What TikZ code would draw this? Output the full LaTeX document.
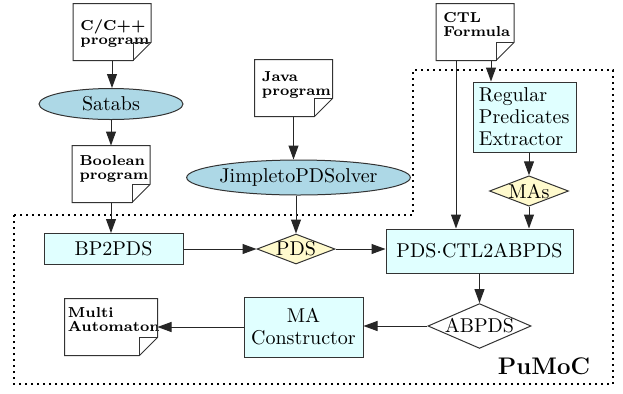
\documentclass[tikz,border=0pt]{standalone}
\usetikzlibrary{shapes.geometric,arrows.meta}

\definecolor{toolblue}{RGB}{173,216,230}
\definecolor{proccyan}{RGB}{224,255,255}
\definecolor{datayellow}{RGB}{255,250,205}

\tikzset{
  every node/.style={font=\fontsize{10}{11}\selectfont},
  tool/.style={ellipse, draw=black!80, fill=toolblue, inner sep=0pt},
  proc/.style={rectangle, draw=black!80, fill=proccyan, inner sep=0pt},
  data/.style={diamond, draw=black!80, fill=datayellow, inner sep=0pt, aspect=2.6},
  doc/.style 2 args={font=\fontsize{7.2}{7}\selectfont\bfseries, align=left,
    inner xsep=3.5pt, inner ysep=0pt, text width=31.5pt,
    text height=#1, text depth=#2},
  flow/.style={-{Triangle[length=7pt,width=5pt]}, draw=black!85},
}

\begin{document}
\begin{tikzpicture}[x=0.5pt, y=-0.5pt, line width=0.5pt]
  \useasboundingbox (0,0) rectangle (623,393);

  % tool boundary
  \draw[line width=1pt, dotted] (14,215) -- (413,215) -- (413,70) -- (613,70)
    -- (613,384) -- (14,384) -- cycle;

  % inputs and front ends
  \node[doc={13pt}{15pt}] (cpp) at (112,32) {C/C++\\program};
  \node[tool, minimum width=72pt, minimum height=15.5pt] (satabs) at (111,104) {Satabs};
  \node[doc={9.5pt}{18.5pt}] (bool) at (111,174) {Boolean\\program};
  \node[doc={10.5pt}{17.5pt}] (java) at (293.5,88) {Java\\program};
  \node[tool, minimum width=86.5pt, minimum height=17.5pt] (jimple) at (298.5,177.5) {JimpletoPDSolver};
  \node[doc={9pt}{19pt}] (ctl) at (475,32) {CTL\\Formula};

  % inside the checker
  \node[proc, minimum width=51.5pt, minimum height=35pt, text width=45.5pt, align=left] (rpe) at (524.5,117) {Regular\\Predicates\\Extractor};
  \node[data, minimum width=39pt, minimum height=14pt] (mas) at (529,191) {MAs};
  \node[proc, minimum width=69.5pt, minimum height=15.5pt] (bp2pds) at (113.5,249) {BP2PDS};
  \node[data, minimum width=39pt, minimum height=15pt] (pds) at (296,249) {PDS};
  \node[proc, minimum width=93.5pt, minimum height=22pt] (pdsctl) at (479.5,251) {PDS$\cdot$CTL2ABPDS};
  \node[data, fill=white, aspect=2.3, minimum width=48.5pt, minimum height=21pt] (abpds) at (479.5,326) {ABPDS};
  \node[proc, minimum width=59.5pt, minimum height=30pt, align=center] (ma) at (303.5,327) {MA\\Constructor};
  \node[doc={9pt}{19pt}, text width=43pt, inner xsep=1.5pt] (multi) at (111,327) {Multi\\Automaton};
  \node[font=\large\bfseries] (pumoc) at (544,366) {PuMoC};

  % folded corners of the files
  \foreach \d in {cpp,bool,java,ctl,multi}{
    \draw[black!80] (\d.north west) -- (\d.north east) -- ([yshift=9pt]\d.south east)
      -- ([xshift=-9pt]\d.south east) -- (\d.south west) -- cycle;
    \draw[black!80] ([xshift=-9pt]\d.south east) -- ([xshift=-9pt,yshift=9pt]\d.south east)
      -- ([yshift=9pt]\d.south east);
  }

  \draw[flow] (cpp.south) -- (cpp.south |- satabs.north);
  \draw[flow] (satabs.south) -- (satabs.south |- bool.north);
  \draw[flow] (bool.south) -- (bool.south |- bp2pds.north);
  \draw[flow] (java.south) -- (java.south |- jimple.north);
  \draw[flow] (jimple.south -| pds.north) -- (pds.north);
  \draw[flow] (bp2pds.east) -- (pds.west);
  \draw[flow] (pds.east) -- (pds.east -| pdsctl.west);
  \draw[flow] ([xshift=10pt]ctl.south west) -- ([xshift=10pt]ctl.south west |- pdsctl.north);
  \draw[flow] ([xshift=27.5pt]ctl.south west) -- ([xshift=27.5pt]ctl.south west |- rpe.north);
  \draw[flow] (rpe.south -| mas.north) -- (mas.north);
  \draw[flow] (mas.south) -- (mas.south |- pdsctl.north);
  \draw[flow] (pdsctl.south -| abpds.north) -- (abpds.north);
  \draw[flow] (abpds.west) -- (abpds.west -| ma.east);
  \draw[flow] (ma.west) -- (ma.west -| multi.east);
\end{tikzpicture}
\end{document}
